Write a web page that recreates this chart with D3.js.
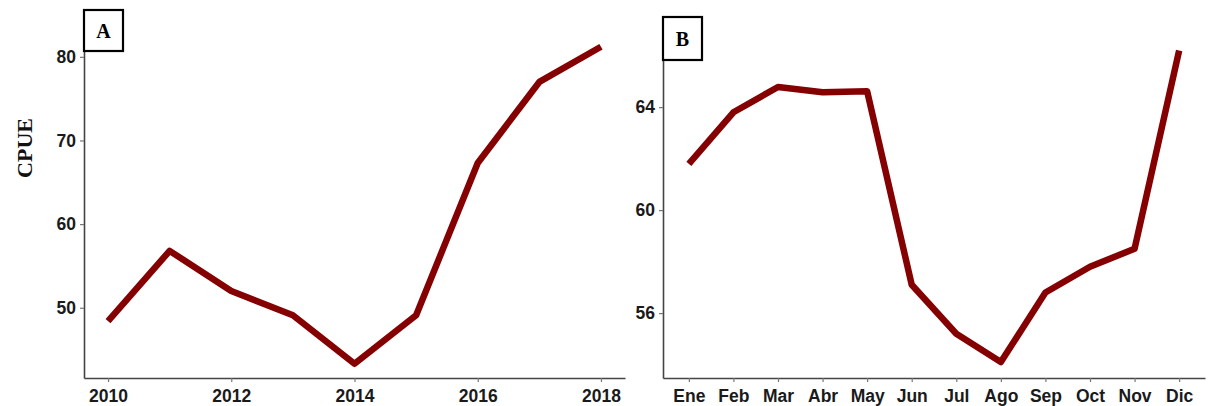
<!DOCTYPE html>
<html>
<head>
<meta charset="utf-8">
<script src="https://cdn.jsdelivr.net/npm/d3@7"></script>
<style>
  html, body { margin: 0; padding: 0; background: #fff; }
  svg { display: block; }
  .tick text { font-family: "Liberation Sans", Arial, sans-serif; font-weight: bold; font-size: 17.5px; fill: #1a1a1a; }
</style>
</head>
<body>
<svg id="chart" width="1208" height="406"></svg>
<script>
// Annual CPUE (panel A)
const years = [2010, 2011, 2012, 2013, 2014, 2015, 2016, 2017, 2018];
const cpueYear = [48.4, 56.8, 52.0, 49.1, 43.3, 49.1, 67.3, 77.0, 81.2];
const yearTicks = [2010, 2012, 2014, 2016, 2018];
const yTicksA = [50, 60, 70, 80];

// Monthly CPUE (panel B)
const months = ["Ene", "Feb", "Mar", "Abr", "May", "Jun", "Jul", "Ago", "Sep", "Oct", "Nov", "Dic"];
const cpueMonth = [61.8, 63.8, 64.78, 64.58, 64.62, 57.1, 55.2, 54.1, 56.8, 57.8, 58.5, 66.2];
const yTicksB = [56, 60, 64];

const svg = d3.select("#chart");
const lineColor = "#850000";
const axisColor = "#444";

function styleAxis(g) {
  g.selectAll(".domain").attr("stroke", axisColor).attr("stroke-width", 1.6);
  g.selectAll(".tick line").attr("stroke", "#777").attr("stroke-width", 1.2);
}

function panelTag(x, y, w, h, label) {
  svg.append("rect")
    .attr("x", x).attr("y", y).attr("width", w).attr("height", h)
    .attr("fill", "#fff").attr("stroke", "#000").attr("stroke-width", 2.2);
  svg.append("text")
    .attr("x", x + w / 2).attr("y", y + h / 2 + 7)
    .attr("text-anchor", "middle")
    .attr("font-family", "'Liberation Serif', 'Times New Roman', serif")
    .attr("font-weight", "bold").attr("font-size", 20)
    .text(label);
}

// ---- Panel A ----
const xA = d3.scaleLinear().domain([2009.61, 2018.39]).range([84, 625]);
const yA = d3.scaleLinear().domain([41.6, 85.6]).range([378, 10]);

svg.append("g").attr("transform", "translate(0,378)")
  .call(d3.axisBottom(xA).tickValues(yearTicks).tickFormat(d3.format("d")).tickSize(4).tickSizeOuter(0).tickPadding(8))
  .call(styleAxis);
svg.append("g").attr("transform", "translate(84,0)")
  .call(d3.axisLeft(yA).tickValues(yTicksA).tickSize(4).tickSizeOuter(0).tickPadding(4))
  .call(styleAxis);

svg.append("path")
  .datum(years.map((d, i) => [d, cpueYear[i]]))
  .attr("fill", "none").attr("stroke", lineColor).attr("stroke-width", 6.5)
  .attr("stroke-linejoin", "round")
  .attr("d", d3.line().x(d => xA(d[0])).y(d => yA(d[1])));

svg.append("text")
  .attr("transform", "translate(32,148) rotate(-90)")
  .attr("text-anchor", "middle")
  .attr("font-family", "'Liberation Serif', 'Times New Roman', serif")
  .attr("font-weight", "bold").attr("font-size", 22)
  .attr("fill", "#111")
  .text("CPUE");

panelTag(84, 10, 39, 41, "A");

// ---- Panel B ----
const xB = d3.scalePoint().domain(months).range([663, 1205]).padding(0.58);
const yB = d3.scaleLinear().domain([53.48, 67.5]).range([378, 17]);

svg.append("g").attr("transform", "translate(0,378)")
  .call(d3.axisBottom(xB).tickSize(4).tickSizeOuter(0).tickPadding(8))
  .call(styleAxis);
svg.append("g").attr("transform", "translate(663,0)")
  .call(d3.axisLeft(yB).tickValues(yTicksB).tickSize(4).tickSizeOuter(0).tickPadding(4))
  .call(styleAxis);

svg.append("path")
  .datum(months.map((m, i) => [m, cpueMonth[i]]))
  .attr("fill", "none").attr("stroke", lineColor).attr("stroke-width", 6.5)
  .attr("stroke-linejoin", "round")
  .attr("d", d3.line().x(d => xB(d[0])).y(d => yB(d[1])));

panelTag(663, 17, 39, 43, "B");
</script>
</body>
</html>
